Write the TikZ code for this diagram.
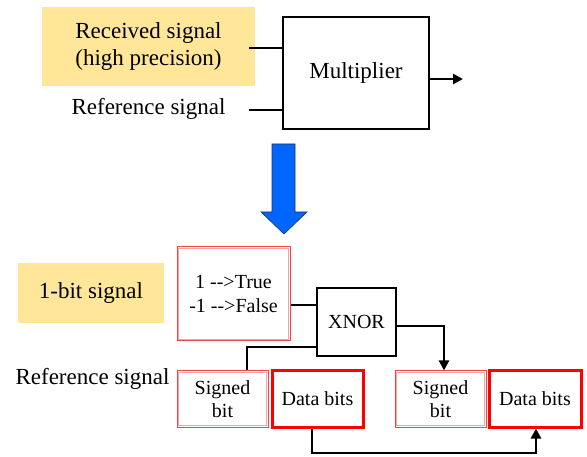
\documentclass[tikz,border=0pt]{standalone}
\usepackage{fontspec}
\setmainfont{Liberation Serif}
\newfontfamily\timesface{Liberation Serif}
\usetikzlibrary{arrows.meta,calc}
\definecolor{noteyellow}{RGB}{255,230,153}
\definecolor{arrowblue}{RGB}{0,102,255}
\definecolor{arrowedge}{RGB}{30,50,90}
\definecolor{boxred}{RGB}{255,0,0}
\definecolor{softred}{RGB}{240,70,70}
\tikzset{
  bigtext/.style={font=\timesface\fontsize{23}{27}\selectfont, align=center},
  smalltext/.style={font=\timesface\fontsize{20}{24}\selectfont, align=center},
  note/.style={bigtext, fill=noteyellow, inner sep=0pt},
  blockbox/.style={draw=black, line width=1.2pt, inner sep=0pt},
  softbox/.style={smalltext, draw=softred, line width=1pt, inner sep=0pt},
  databox/.style={smalltext, draw=boxred, line width=3pt, inner sep=0pt},
  wire/.style={line width=2.6pt},
  thinwire/.style={line width=2pt},
  tip/.style={-{Triangle[length=10pt,width=10pt]}},
}
% inner pale outline of a soft box
\newcommand{\softinner}[1]{%
  \draw[draw=softred!50, line width=0.8pt]
    ($(#1.south west)+(2.2,-2.2)$) rectangle ($(#1.north east)+(-2.2,2.2)$);}
\begin{document}
\begin{tikzpicture}[x=1pt,y=-1pt]
\useasboundingbox (0,0) rectangle (587,457);

% --- multiplier stage ---
\node[note, minimum width=213pt, minimum height=79pt] (recv) at (148.5,46.5)
  {Received signal\\(high precision)};
\node[bigtext, inner sep=0pt] (refa) at (148.5,109) {Reference signal};
\node[blockbox, bigtext, minimum width=146pt, minimum height=112pt] (mult) at (356,73) {Multiplier};
\coordinate (in1) at (249,48);
\coordinate (in2) at (249,110);
\coordinate (out) at (463,79);
\draw[wire] (in1) -- (in1 -| mult.west);
\draw[wire] (in2) -- (in2 -| mult.west);
\draw[wire, tip] (out -| mult.east) -- (out);

% --- transition arrow ---
\filldraw[fill=arrowblue, draw=arrowedge, line width=0.6pt]
  (272,144) -- (295,144) -- (295,212) -- (307,212) -- (284,234)
  -- (261,212) -- (272,212) -- cycle;

% --- 1-bit stage ---
\node[note, minimum width=146pt, minimum height=60pt] (onebit) at (91,293) {1-bit signal};
\node[softbox, minimum width=113pt, minimum height=94pt] (map) at (233.5,294)
  {1 -{}->True\\-1 -{}->False};
\softinner{map}
\node[blockbox, smalltext, minimum width=79pt, minimum height=68pt] (xnor) at (356.5,322) {XNOR};
\node[bigtext, inner sep=0pt] (refb) at (92.5,379) {Reference signal};
\node[softbox, minimum width=91pt, minimum height=56pt] (sbl) at (222.5,399)
  {Signed\\[-1pt]bit};
\softinner{sbl}
\node[databox, minimum width=91pt, minimum height=56pt] (dbl) at (317.5,399) {Data bits};
\node[softbox, minimum width=91pt, minimum height=56pt] (sbr) at (440.5,399)
  {Signed\\[-1pt]bit};
\softinner{sbr}
\node[databox, minimum width=92pt, minimum height=56pt] (dbr) at (535,399) {Data bits};

% connectors
\draw[thinwire] (map.east |- 0,305) -- (xnor.west |- 0,305);
\draw[thinwire] (xnor.west |- 0,347) -- (247,347) -- (247,0 |- sbl.north);
\draw[thinwire, tip] (xnor.east |- 0,326) -- (444,326) -- (444,0 |- sbr.north);
\draw[wire, tip] (312,0 |- dbl.south) -- (312,453) -- (536,453) -- (536,0 |- dbr.south);
\end{tikzpicture}
\end{document}
